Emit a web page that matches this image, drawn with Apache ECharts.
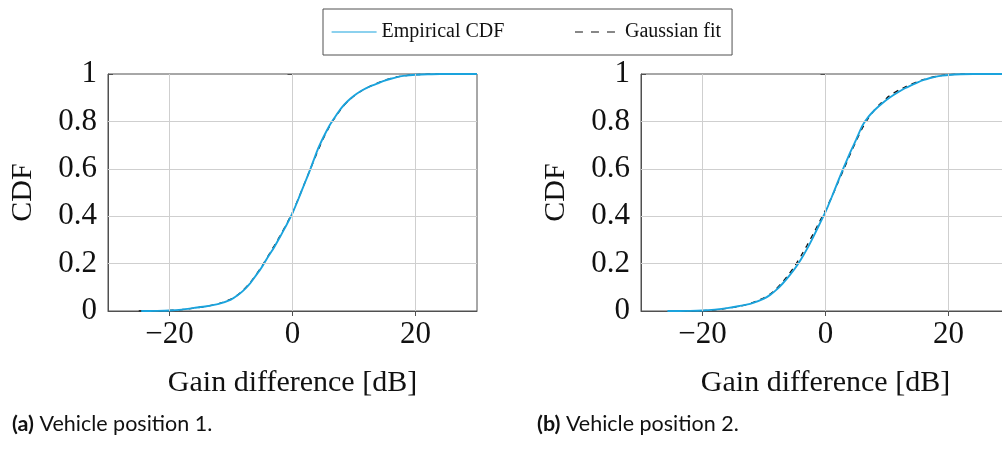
<!DOCTYPE html>
<html>
<head>
<meta charset="utf-8">
<script src="https://cdn.jsdelivr.net/npm/echarts@6/dist/echarts.min.js"></script>
<style>
  html, body { margin: 0; padding: 0; background: #fff; }
  #chart { width: 1002px; height: 452px; }
</style>
</head>
<body>
<div id="chart"></div>
<script>
// Gain difference grid (dB) for each panel
const xEmpA = [-24.6, -22, -20, -18, -16, -14, -12, -10, -9, -8, -7, -6, -5, -4, -3, -2, -1, 0, 1, 2, 3, 4, 5, 6, 7, 8, 9, 10, 11, 12, 13, 14, 15, 16, 17, 18, 19, 20, 22, 24, 30];
const cdfEmpA = [0, 0.0005, 0.002, 0.006, 0.013, 0.02, 0.03, 0.048, 0.065, 0.086, 0.113, 0.148, 0.185, 0.228, 0.268, 0.314, 0.362, 0.413, 0.475, 0.54, 0.605, 0.675, 0.732, 0.782, 0.822, 0.858, 0.886, 0.908, 0.926, 0.94, 0.952, 0.962, 0.972, 0.98, 0.987, 0.992, 0.995, 0.997, 0.999, 1, 1];

const xFitA = [-25, -22, -20, -18, -16, -14, -12, -10, -9, -8, -7, -6, -5, -4, -3, -2, -1, 0, 1, 2, 3, 4, 5, 6, 7, 8, 9, 10, 11, 12, 13, 14, 15, 16, 17, 18, 19, 20, 22, 24, 30];
const cdfFitA = [0.0002, 0.0008, 0.0025, 0.006, 0.012, 0.02, 0.031, 0.05, 0.066, 0.088, 0.116, 0.15, 0.188, 0.231, 0.274, 0.318, 0.366, 0.416, 0.477, 0.541, 0.605, 0.668, 0.727, 0.778, 0.82, 0.856, 0.885, 0.907, 0.925, 0.94, 0.953, 0.964, 0.974, 0.982, 0.988, 0.992, 0.995, 0.997, 0.999, 1, 1];

const xEmpB = [-25.7, -22, -20, -18, -16, -14, -12, -10, -9, -8, -7, -6, -5, -4, -3, -2, -1, 0, 1, 2, 3, 4, 5, 6, 7, 8, 9, 10, 11, 12, 13, 14, 15, 16, 17, 18, 19, 20, 22, 24, 30];
const cdfEmpB = [0, 0.0005, 0.002, 0.006, 0.012, 0.021, 0.032, 0.052, 0.068, 0.089, 0.115, 0.145, 0.178, 0.217, 0.262, 0.312, 0.365, 0.418, 0.48, 0.545, 0.608, 0.668, 0.724, 0.782, 0.82, 0.848, 0.871, 0.892, 0.91, 0.926, 0.941, 0.953, 0.965, 0.975, 0.983, 0.989, 0.993, 0.996, 0.999, 1, 1];

const xFitB = [-25, -22, -20, -18, -16, -14, -12, -10, -9, -8, -7, -6, -5, -4, -3, -2, -1, 0, 1, 2, 3, 4, 5, 6, 7, 8, 9, 10, 11, 12, 13, 14, 15, 16, 17, 18, 19, 20, 22, 24, 30];
const cdfFitB = [0.0002, 0.0008, 0.002, 0.005, 0.011, 0.02, 0.034, 0.056, 0.072, 0.094, 0.121, 0.154, 0.19, 0.232, 0.277, 0.325, 0.375, 0.426, 0.48, 0.54, 0.6, 0.66, 0.718, 0.772, 0.815, 0.85, 0.877, 0.9, 0.918, 0.933, 0.946, 0.958, 0.968, 0.977, 0.984, 0.99, 0.994, 0.997, 0.999, 1, 1];

const xTicks = [-20, 0, 20];
const gridX = [-20, 0, 20];
const gridY = [0.2, 0.4, 0.6, 0.8];

const seriesNames = ['Empirical CDF', 'Gaussian fit'];
const axisTitles = { x: 'Gain difference [dB]', y: 'CDF' };
const captions = [
  { tag: '(a)', text: ' Vehicle position 1.' },
  { tag: '(b)', text: ' Vehicle position 2.' }
];

const BLUE = '#1aa3dd';
const FRAME = '#505050';
const GRIDC = '#cfcfcf';
const SERIF = '"Liberation Serif", "DejaVu Serif", serif';

const pairs = (xs, ys) => xs.map((x, i) => [x, ys[i]]);
const fmtX = v => (v < 0 ? '\u2212' + (-v) : String(v));
const fmtY = v => (v === 0 ? '0' : v === 1 ? '1' : v.toFixed(1));

const panels = [
  { left: 108, emp: pairs(xEmpA, cdfEmpA), fit: pairs(xFitA, cdfFitA) },
  { left: 641, emp: pairs(xEmpB, cdfEmpB), fit: pairs(xFitB, cdfFitB) }
];

const grids = [], xAxes = [], yAxes = [], series = [];
panels.forEach((p, i) => {
  grids.push({
    left: p.left, top: 74, width: 369, height: 237,
    show: true, borderColor: FRAME, borderWidth: 1,
    containLabel: false, outerBoundsMode: 'none'
  });
  // bottom axis with labels
  xAxes.push({
    type: 'value', gridIndex: i, min: -30, max: 30, position: 'bottom',
    axisLine: { show: true, onZero: false, lineStyle: { color: FRAME, width: 1 } },
    axisTick: { show: true, inside: true, length: 5, customValues: xTicks, lineStyle: { color: FRAME } },
    axisLabel: { show: true, customValues: xTicks, formatter: fmtX, margin: 8,
      fontFamily: SERIF, fontSize: 31, color: '#111' },
    splitLine: { show: false },
    name: axisTitles.x, nameLocation: 'middle', nameGap: 57,
    nameTextStyle: { fontFamily: SERIF, fontSize: 30, color: '#111' }
  });
  // top axis: inside ticks only
  xAxes.push({
    type: 'value', gridIndex: i, min: -30, max: 30, position: 'top',
    axisLine: { show: false },
    axisTick: { show: true, inside: true, length: 5, customValues: xTicks, lineStyle: { color: FRAME } },
    axisLabel: { show: false }, splitLine: { show: false }
  });
  yAxes.push({
    type: 'value', gridIndex: i, min: 0, max: 1, interval: 0.2, position: 'left',
    axisLine: { show: true, onZero: false, lineStyle: { color: FRAME, width: 1 } },
    axisTick: { show: true, inside: true, length: 5, lineStyle: { color: FRAME } },
    axisLabel: { show: true, formatter: fmtY, margin: 11, padding: [4, 0, 0, 0],
      fontFamily: SERIF, fontSize: 31, color: '#111' },
    splitLine: { show: false },
    name: axisTitles.y, nameLocation: 'middle', nameGap: 70, nameRotate: 90,
    nameTextStyle: { fontFamily: SERIF, fontSize: 30, color: '#111' }
  });
  yAxes.push({
    type: 'value', gridIndex: i, min: 0, max: 1, interval: 0.2, position: 'right',
    axisLine: { show: false },
    axisTick: { show: true, inside: true, length: 5, lineStyle: { color: FRAME } },
    axisLabel: { show: false }, splitLine: { show: false }
  });

  // Gaussian fit (dashed, underneath), carrying the major grid lines
  series.push({
    name: seriesNames[1], type: 'line', xAxisIndex: 2 * i, yAxisIndex: 2 * i,
    data: p.fit, showSymbol: false, symbol: 'none', smooth: 0.2, z: 3,
    lineStyle: { color: '#111', width: 1.3, type: [5, 5] },
    itemStyle: { color: '#111' },
    markLine: {
      silent: true, symbol: 'none', animation: false, label: { show: false },
      lineStyle: { color: GRIDC, width: 1, type: 'solid' },
      emphasis: { disabled: true },
      data: gridX.map(v => ({ xAxis: v })).concat(gridY.map(v => ({ yAxis: v })))
    }
  });
  // Empirical CDF (solid blue, on top)
  series.push({
    name: seriesNames[0], type: 'line', xAxisIndex: 2 * i, yAxisIndex: 2 * i,
    data: p.emp, showSymbol: false, symbol: 'none', smooth: 0.2, z: 4,
    lineStyle: { color: BLUE, width: 1.9 },
    itemStyle: { color: BLUE }
  });
});

const chart = echarts.init(document.getElementById('chart'), null, { renderer: 'canvas' });
chart.setOption({
  animation: false,
  backgroundColor: '#fff',
  legend: {
    data: [
      { name: seriesNames[0], lineStyle: { width: 1.2, type: 'solid' } },
      { name: seriesNames[1], lineStyle: { width: 1.2, type: [8, 8], color: '#111' } }
    ],
    left: 323, top: 9,
    padding: [13, 11, 13, 8],
    itemWidth: 45, itemHeight: 14, itemGap: 70,
    itemStyle: { opacity: 0 },
    borderColor: FRAME, borderWidth: 1, borderRadius: 0,
    textStyle: { fontFamily: SERIF, fontSize: 20, color: '#111' },
    selectedMode: false
  },
  grid: grids,
  xAxis: xAxes,
  yAxis: yAxes,
  series: series,
  graphic: captions.map((c, i) => ({
    type: 'text', left: i === 0 ? 12 : 537, top: 413,
    style: {
      text: '{b|' + c.tag + '}' + c.text,
      fontFamily: 'Lato, "Open Sans", sans-serif', fontSize: 21.5, fill: '#111',
      rich: { b: { fontFamily: 'Lato, sans-serif', fontWeight: 'bold', fontSize: 21.5, fill: '#111' } }
    }
  }))
});
</script>
</body>
</html>
